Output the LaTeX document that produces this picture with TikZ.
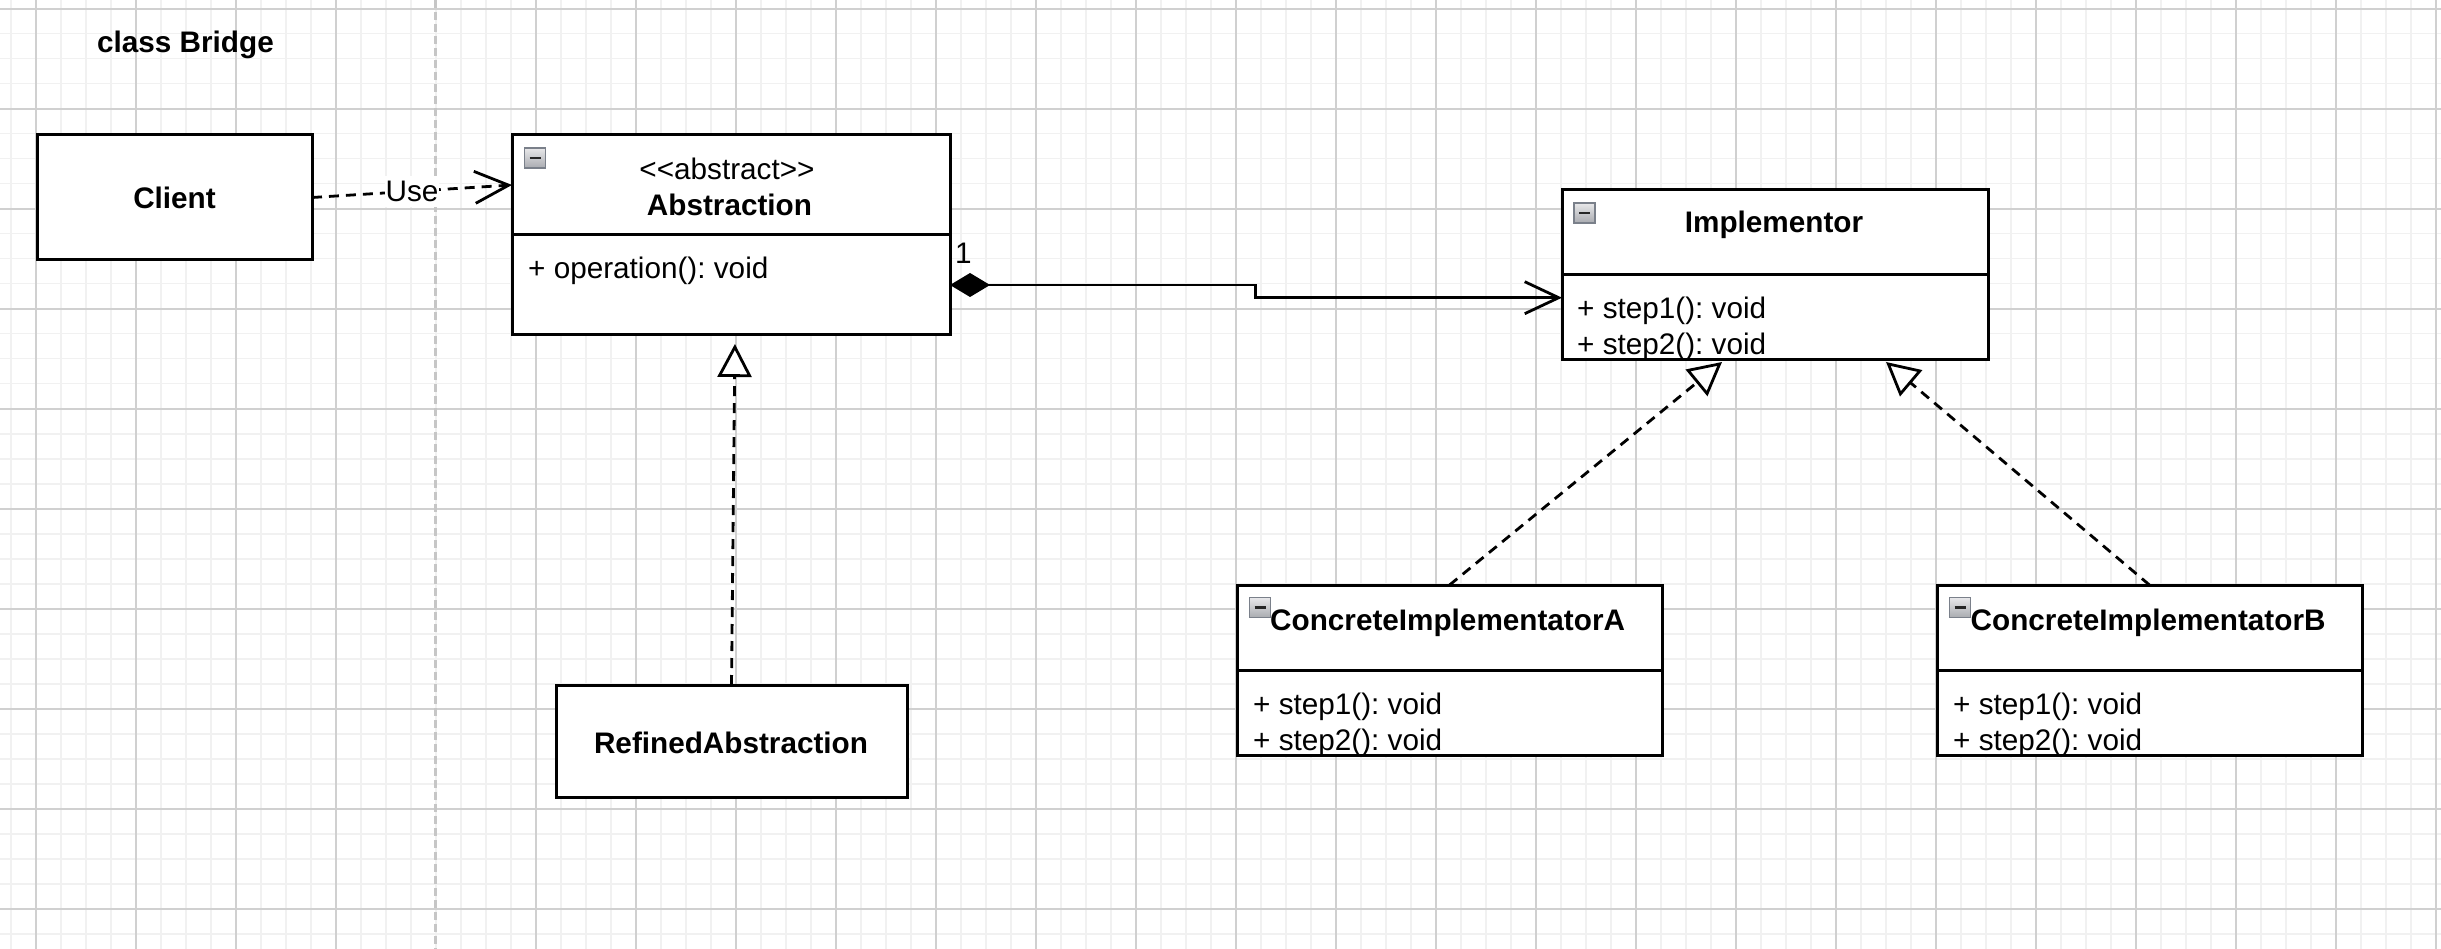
\documentclass[tikz,border=0pt]{standalone}
\usepackage{fontspec}
\setmainfont{Liberation Sans}[Ligatures=TeXOff]
\usetikzlibrary{arrows.meta}
\frenchspacing
\definecolor{gridmajor}{HTML}{D0D0D0}
\definecolor{gridminor}{HTML}{F1F1F1}
\definecolor{pagebreak}{HTML}{C6C6C6}
\definecolor{iconedge}{HTML}{7A808A}
\definecolor{icontop}{HTML}{E8E8EA}
\definecolor{iconbottom}{HTML}{A9ABB0}

\begin{document}
\begin{tikzpicture}[x=1pt,y=-1pt,
  txt/.style={font=\fontsize{29.7}{35}\selectfont, inner sep=0pt},
  bold/.style={font=\fontsize{29.7}{35}\selectfont\bfseries, inner sep=0pt},
  umlbox/.style={draw, line width=3pt, fill=white, inner sep=0pt, outer sep=0pt},
  divider/.style={line width=3pt},
  icon/.style={draw=iconedge, line width=1.2pt, top color=icontop, bottom color=iconbottom,
    minimum width=21pt, minimum height=20pt, inner sep=0pt,
    path picture={\draw[line width=2.6pt, black!85]
      ([xshift=-5.5pt]path picture bounding box.center) --
      ([xshift=5.5pt]path picture bounding box.center);}},
  dep/.style={line width=2.8pt, dash pattern=on 10pt off 7pt,
    -{Straight Barb[length=34pt, width=32pt]}},
  comp/.style={line width=2.8pt,
    {Diamond[length=40pt, width=24pt]}-{Straight Barb[length=34pt, width=32pt]}},
  real/.style={line width=2.8pt, dash pattern=on 10pt off 7pt,
    -{Triangle[length=33pt, width=34pt, fill=white]}},
  uselbl/.style={txt, fill=white, inner xsep=1pt, inner ysep=5pt},
  minorline/.style={gridminor, line width=1.6pt},
  majorline/.style={gridmajor, line width=2pt}
]
\useasboundingbox (0,0) rectangle (2441,949);
\fill[white] (0,0) rectangle (2441,949);

% background grid: fine lines every 25, strong lines every 100
\foreach \i in {0,...,97} \draw[minorline] (10.7+25*\i,0) -- (10.7+25*\i,949);
\foreach \i in {0,...,37} \draw[minorline] (0,8.7+25*\i) -- (2441,8.7+25*\i);
\foreach \i in {0,1,2,3,5,6,7,8,9,10,11,12,13,14,15,16,17,18,19,20,21,22,23,24}
  \draw[majorline] (35.7+100*\i,0) -- (35.7+100*\i,949);
\foreach \i in {0,...,9} \draw[majorline] (0,8.7+100*\i) -- (2441,8.7+100*\i);
% page boundary
\draw[pagebreak, line width=2.6pt, dash pattern=on 8pt off 4pt] (435.7,0) -- (435.7,949);

% title
\node[bold, anchor=base west] (title) at (97,52.7) {class Bridge};

% Client
\node[umlbox, minimum width=275pt, minimum height=125pt] (client) at (174.5,197.5) {};
\node[bold, anchor=base] (clientname) at (174.5,208.3) {Client};

% Abstraction
\node[umlbox, minimum width=438pt, minimum height=200pt] (abs) at (731,235) {};
\draw[divider] ([yshift=-100pt]abs.north west) -- ([yshift=-100pt]abs.north east);
\node[icon] (absicon) at (535,158) {};
\node[txt, anchor=base] (absstereo) at (727,180) {<<abstract>>};
\node[bold, anchor=base] (absname) at (729.5,216) {Abstraction};
\node[txt, anchor=base west] (absop) at (528,279) {+ operation(): void};

% RefinedAbstraction
\node[umlbox, minimum width=351pt, minimum height=112pt] (refined) at (731.5,741) {};
\node[bold, anchor=base] (refinedname) at (731,753.3) {RefinedAbstraction};

% Implementor
\node[umlbox, minimum width=426pt, minimum height=170pt] (impl) at (1775,275) {};
\draw[divider] ([yshift=-85pt]impl.north west) -- ([yshift=-85pt]impl.north east);
\node[icon] (implicon) at (1584.5,213) {};
\node[bold, anchor=base] (implname) at (1774,233) {Implementor};
\node[txt, anchor=base west] (implop1) at (1577,319) {+ step1(): void};
\node[txt, anchor=base west] (implop2) at (1577,355) {+ step2(): void};

% ConcreteImplementatorA
\node[umlbox, minimum width=425pt, minimum height=170pt] (cia) at (1449.5,670) {};
\draw[divider] ([yshift=-85pt]cia.north west) -- ([yshift=-85pt]cia.north east);
\node[icon] (ciaicon) at (1260,607.5) {};
\node[bold, anchor=base west] (cianame) at (1270,630) {ConcreteImplementatorA};
\node[txt, anchor=base west] (ciaop1) at (1253,714) {+ step1(): void};
\node[txt, anchor=base west] (ciaop2) at (1253,750) {+ step2(): void};

% ConcreteImplementatorB
\node[umlbox, minimum width=425pt, minimum height=170pt] (cib) at (2149.5,670) {};
\draw[divider] ([yshift=-85pt]cib.north west) -- ([yshift=-85pt]cib.north east);
\node[icon] (cibicon) at (1960,607.5) {};
\node[bold, anchor=base west] (cibname) at (1970.5,630) {ConcreteImplementatorB};
\node[txt, anchor=base west] (cibop1) at (1953,714) {+ step1(): void};
\node[txt, anchor=base west] (cibop2) at (1953,750) {+ step2(): void};

% relations
\draw[dep] (client.east) -- node[uselbl] (uselabel) {Use} ([yshift=-50pt]abs.north west);
\draw[comp] ([yshift=50pt]abs.south east) -- ++(305.7,0) |- ([yshift=-22.7pt]impl.west);
\node[txt, anchor=base west] (mult) at (955,264) {1};
\draw[real, shorten >=9pt] (refined.north) -- ([xshift=4pt]abs.south);
\draw[real] (cia.north) -- ([xshift=-53pt,yshift=-2pt]impl.south);
\draw[real] (cib.north) -- ([xshift=111pt,yshift=-2pt]impl.south);
\end{tikzpicture}
\end{document}
